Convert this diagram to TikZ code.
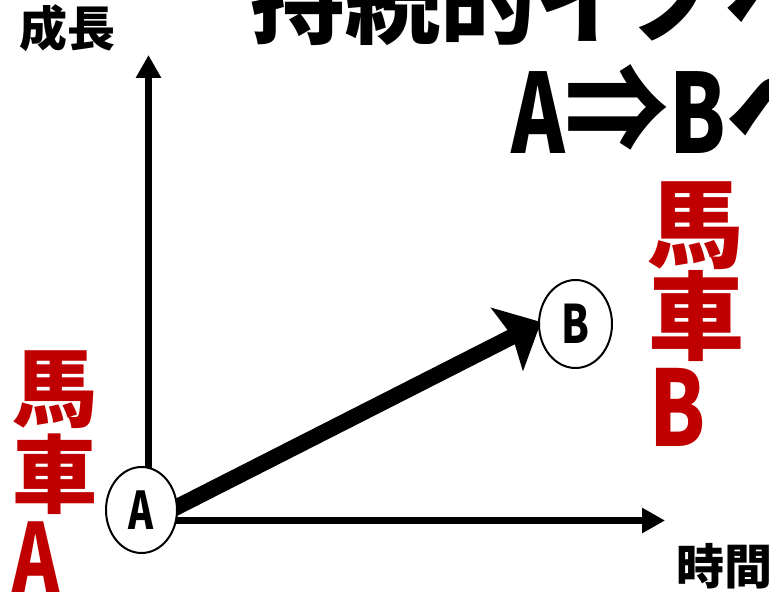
\documentclass[tikz,border=0pt]{standalone}
\usepackage{fontspec}
\usepackage{graphicx}
\newfontfamily\jp{Noto Sans CJK JP}
\usetikzlibrary{arrows.meta,shapes.geometric}
\definecolor{redtxt}{HTML}{C00000}
\pgfdeclarelayer{bg}
\pgfsetlayers{bg,main}
\tikzset{
  axis/.style={line width=7.5pt,-{Triangle[length=23pt,width=24pt]}},
  bigarrow/.style={line width=16pt,-{Stealth[length=38pt,width=70pt,inset=6pt]}},
  circ/.style={ellipse,draw,line width=2pt,fill=white,inner sep=0pt},
  lbl/.style={inner sep=0pt,anchor=base},
  blk/.style={lbl,font=\jp\bfseries\fontsize{48}{48}\selectfont},
  redl/.style={lbl,text=redtxt},
}
\begin{document}
\begin{tikzpicture}[x=1pt,y=-1pt]
\useasboundingbox (0,0) rectangle (769,593);
\clip (0,0) rectangle (769,593);
% titles
\node[lbl,anchor=base west,font=\jp\bfseries\fontsize{95}{95}\selectfont] (t1) at (250,37) {持続的イノベ};
\node[lbl,anchor=base west,font=\jp\bfseries\fontsize{110}{110}\selectfont] (t2) at (511,154) {\scalebox{0.74}[1]{A}\scalebox{0.95}[1.1]{⇒}\scalebox{0.74}[1]{B}へ};
% axis labels
\node[blk,anchor=base west] (growth) at (19,46.5) {成長};
\node[blk,anchor=base west] (time) at (676,584) {時間};
% red labels left
\node[redl,font=\jp\bfseries\fontsize{85}{85}\selectfont] (la1) at (55,421) {馬};
\node[redl,font=\jp\bfseries\fontsize{85}{85}\selectfont] (la2) at (55,507) {車};
\node[redl,font=\jp\bfseries\fontsize{95}{95}\selectfont] (la3) at (36.5,592) {\scalebox{0.75}[1]{A}};
% red labels right
\node[redl,font=\jp\bfseries\fontsize{96}{96}\selectfont] (lb1) at (695,261) {馬};
\node[redl,font=\jp\bfseries\fontsize{96}{96}\selectfont] (lb2) at (696,353) {車};
\node[redl,font=\jp\bfseries\fontsize{105}{105}\selectfont] (lb3) at (678,447) {\scalebox{0.77}[1]{B}};
% circles
\node[circ,minimum width=71pt,minimum height=86pt,font=\jp\bfseries\fontsize{52}{52}\selectfont] (A) at (141.5,510) {\scalebox{0.73}[1]{A}};
\node[circ,minimum width=73pt,minimum height=88pt,font=\jp\bfseries\fontsize{53}{53}\selectfont] (B) at (575.5,324) {\scalebox{0.76}[1]{B}};
\coordinate (ytip) at (148.5,55);
\coordinate (xtip) at (665,520.5);
\begin{pgfonlayer}{bg}
\draw[axis] ([xshift=7pt,yshift=-10.5pt]A.center) -- (ytip);
\draw[axis] ([xshift=7pt,yshift=-10.5pt]A.center) -- (xtip);
\draw[bigarrow] ([yshift=-15pt]A.center) -- ([xshift=3pt,yshift=2pt]B.west);
\end{pgfonlayer}
\end{tikzpicture}
\end{document}
